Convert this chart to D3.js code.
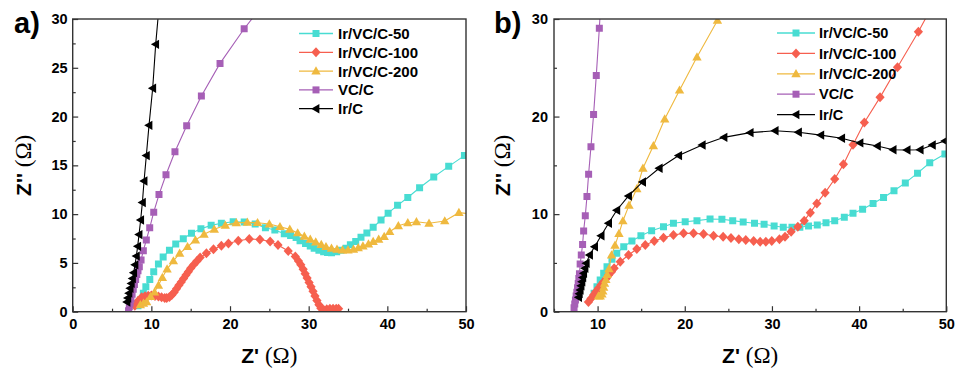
<!DOCTYPE html>
<html><head><meta charset="utf-8">
<script src="https://cdn.jsdelivr.net/npm/d3@7"></script>
<style>
body{margin:0;background:#fff}
svg{display:block}
text{font-family:"Liberation Sans",Arial,sans-serif;font-weight:bold;fill:#000}
</style>
</head><body>
<svg id="chart" width="957" height="373"></svg>
<script>
// ---------- series meta ----------
const seriesNames  = ["Ir/VC/C-50","Ir/VC/C-100","Ir/VC/C-200","VC/C","Ir/C"];
const seriesColors = ["#48DCD2","#F65F4F","#EFB93F","#A65FB6","#000000"];
const seriesShapes = ["square","diamond","triangleUp","square","triangleLeft"];

// ---------- panel a data [Z', Z''] ----------
const a_IrVCC50 = [[8.3,0.6],[8.64,1.2],[8.98,1.9],[9.3,2.56],[9.8,3.3],[10.3,4.1],[10.9,4.9],[11.5,5.6],[12.3,6.3],[13.1,6.94],[14.06,7.48],[15.1,8.03],[16.3,8.5],[17.6,8.85],[18.9,9.06],[20.4,9.22],[21.8,9.2],[23.2,9.0],[24.5,8.6],[25.7,8.37],[26.9,8.0],[27.7,7.8],[28.4,7.6],[28.9,7.28],[29.6,7.0],[30.2,6.73],[30.7,6.5],[31.3,6.29],[31.9,6.15],[32.4,6.08],[32.9,6.05],[33.56,6.15],[34.1,6.29],[34.75,6.5],[35.3,6.87],[35.98,7.2],[36.65,7.63],[37.4,8.07],[38.2,8.65],[39.2,9.4],[40.1,10.1],[41.3,10.9],[42.6,11.7],[44.1,12.7],[45.9,13.8],[47.8,14.9],[49.8,16.0]];
const a_IrVCC100 = [[7.9,0.6],[8.3,1.1],[8.77,1.47],[9.2,1.58],[9.6,1.63],[10.0,1.65],[10.46,1.62],[10.9,1.55],[11.3,1.47],[11.7,1.4],[11.95,1.4],[12.3,1.5],[12.6,1.7],[12.9,2.0],[13.2,2.35],[13.5,2.7],[13.8,3.05],[14.1,3.4],[14.4,3.75],[14.7,4.1],[15.0,4.45],[15.4,4.85],[15.8,5.2],[16.2,5.55],[17.0,5.98],[17.9,6.4],[18.9,6.77],[19.8,7.0],[21.05,7.28],[22.45,7.45],[23.8,7.4],[25.1,7.2],[26.1,6.84],[27.4,6.22],[28.3,5.65],[28.7,5.2],[29.0,4.8],[29.3,4.35],[29.55,3.9],[29.8,3.45],[30.05,3.0],[30.3,2.55],[30.55,2.1],[30.8,1.6],[31.05,1.15],[31.3,0.7],[31.55,0.35],[31.9,0.2],[32.3,0.25],[32.7,0.3],[33.1,0.3],[33.5,0.3],[33.8,0.3]];
const a_IrVCC200 = [[8.6,0.7],[9.0,0.85],[9.4,1.0],[9.9,1.54],[10.4,2.0],[10.9,2.7],[11.4,3.5],[12.0,4.37],[12.8,5.2],[13.6,5.98],[14.6,6.66],[15.6,7.35],[16.7,7.93],[18.0,8.44],[19.4,8.85],[20.8,9.1],[22.2,9.16],[23.5,9.12],[25.0,8.99],[26.35,8.71],[27.6,8.44],[28.6,8.07],[29.45,7.73],[30.2,7.42],[30.9,7.14],[31.6,6.87],[32.2,6.66],[32.9,6.5],[33.6,6.4],[34.3,6.32],[35.0,6.32],[35.7,6.4],[36.3,6.55],[36.9,6.73],[37.6,6.94],[38.2,7.18],[38.9,7.42],[39.6,7.69],[40.3,8.2],[41.4,8.8],[42.6,9.1],[43.7,9.22],[45.3,9.06],[47.3,9.3],[49.1,10.15],[51.0,10.0]];
const a_VCC = [[7.1,0.1],[7.2,0.5],[7.3,0.9],[7.4,1.3],[7.55,1.8],[7.7,2.3],[7.85,2.8],[8.0,3.3],[8.15,3.8],[8.3,4.2],[8.47,4.6],[8.69,5.3],[8.98,6.25],[9.36,7.35],[9.79,8.6],[10.3,10.2],[10.97,12.0],[11.86,14.04],[13.0,16.4],[14.49,19.06],[16.36,22.1],[18.73,25.45],[21.8,29.0],[25.3,32.6]];
const a_IrC = [[6.9,1.0],[7.0,1.4],[7.15,1.9],[7.3,2.4],[7.45,2.9],[7.6,3.4],[7.75,4.0],[7.92,4.8],[8.09,5.7],[8.26,6.7],[8.43,7.9],[8.64,9.4],[8.86,11.2],[9.07,13.4],[9.36,16.0],[9.70,19.1],[10.17,22.9],[10.55,27.4],[11.0,31.5]];

// ---------- panel b data [Z', Z''] ----------
const b_IrVCC50 = [[9.6,1.9],[9.93,2.56],[10.3,3.25],[10.7,3.93],[11.08,4.61],[11.65,5.37],[12.2,5.98],[13.0,6.66],[13.94,7.25],[14.97,7.79],[16.2,8.3],[17.56,8.71],[18.7,9.06],[20.05,9.22],[21.4,9.33],[22.9,9.5],[24.26,9.47],[25.5,9.33],[26.7,9.19],[28.0,9.06],[29.1,8.96],[30.25,8.78],[31.3,8.65],[32.3,8.65],[33.2,8.65],[34.2,8.78],[35.2,8.89],[36.2,9.12],[37.2,9.33],[38.3,9.67],[39.3,10.08],[40.4,10.5],[41.6,11.1],[42.8,11.7],[44.0,12.4],[45.3,13.2],[46.7,14.2],[48.1,15.27],[49.84,16.16]];
const b_IrVCC100 = [[8.95,1.0],[9.25,1.35],[9.54,1.71],[9.8,2.05],[10.1,2.4],[10.4,2.75],[10.7,3.07],[11.0,3.4],[11.26,3.76],[11.6,4.1],[11.9,4.45],[12.6,5.12],[13.55,5.81],[14.5,6.43],[15.47,6.84],[16.5,7.25],[17.56,7.58],[18.7,7.86],[19.86,8.03],[21.0,8.03],[22.15,7.96],[23.3,7.79],[24.4,7.69],[25.3,7.55],[26.2,7.42],[27.0,7.35],[27.9,7.25],[28.65,7.17],[29.3,7.17],[29.98,7.25],[30.86,7.42],[31.5,7.69],[32.2,8.2],[32.97,8.7],[33.7,9.33],[34.4,10.15],[35.15,11.1],[36.1,12.2],[37.2,13.6],[38.2,15.1],[39.3,17.1],[40.6,19.4],[42.4,21.97],[44.4,25.05],[46.8,28.7],[48.5,31.5]];
const b_IrVCC200 = [[10.1,1.6],[10.3,1.6],[10.5,1.8],[10.6,2.1],[10.7,2.5],[10.8,2.9],[10.95,3.3],[11.1,3.8],[11.3,4.4],[11.6,5.8],[12.0,6.8],[12.45,8.0],[12.9,9.3],[13.6,10.9],[14.5,12.6],[15.2,14.7],[16.4,17.0],[17.7,19.75],[19.4,22.7],[21.4,26.1],[23.75,29.85]];
const b_VCC = [[7.3,0.4],[7.38,0.8],[7.46,1.2],[7.54,1.6],[7.62,2.0],[7.7,2.45],[7.78,2.9],[7.85,3.4],[7.92,3.9],[8.0,4.89],[8.13,5.8],[8.28,6.9],[8.4,8.27],[8.59,9.84],[8.78,11.8],[8.97,14.1],[9.24,16.9],[9.54,20.2],[9.85,24.2],[10.2,29.05],[10.45,33.0]];
const b_IrC = [[7.82,1.47],[7.9,1.85],[8.0,2.22],[8.1,2.65],[8.2,3.07],[8.3,3.5],[8.4,3.93],[8.55,4.45],[8.7,4.96],[9.08,5.81],[9.66,6.66],[10.4,7.79],[11.26,9.06],[12.2,10.4],[13.55,11.86],[15.16,13.3],[17.07,14.7],[19.3,16.0],[22.0,17.08],[24.5,17.87],[27.5,18.35],[30.37,18.55],[33.04,18.39],[35.6,18.1],[38.0,17.77],[40.1,17.3],[42.1,16.98],[43.9,16.6],[45.5,16.57],[47.0,16.6],[48.4,17.08],[49.84,17.5],[51.0,18.0]];

// ---------- ticks ----------
const a_xTicks = [0,10,20,30,40,50];
const a_xMinor = [5,15,25,35,45];
const a_yTicks = [0,5,10,15,20,25,30];
const a_yMinor = [2.5,7.5,12.5,17.5,22.5,27.5];
const b_xTicks = [10,20,30,40,50];
const b_xMinor = [5,15,25,35,45];
const b_yTicks = [0,10,20,30];
const b_yMinor = [5,15,25];

const panels = [
  {id:"a", label:"a)", left:72.7, right:466, top:19, bottom:311.7, xDom:[0,50], yDom:[0,30],
   xTicks:a_xTicks, xMinor:a_xMinor, yTicks:a_yTicks, yMinor:a_yMinor,
   data:[a_IrVCC50,a_IrVCC100,a_IrVCC200,a_VCC,a_IrC],
   labelX:14, yTitleX:31, yPad:5, legX0:299, legX1:333, legY:33.5, legDy:18.8, legFont:15, legTextX:338},
  {id:"b", label:"b)", left:554, right:946.3, top:19, bottom:311.7, xDom:[5,50], yDom:[0,30],
   xTicks:b_xTicks, xMinor:b_xMinor, yTicks:b_yTicks, yMinor:b_yMinor,
   data:[b_IrVCC50,b_IrVCC100,b_IrVCC200,b_VCC,b_IrC],
   labelX:494, yTitleX:510, yPad:6, legX0:777, legX1:815, legY:33, legDy:20.4, legFont:14.5, legTextX:819}
];

function markerPath(shape){
  switch(shape){
    case "square": return "M-3.5,-3.5H3.5V3.5H-3.5Z";
    case "diamond": return "M0,-5L4.6,0L0,5L-4.6,0Z";
    case "triangleUp": return "M0,-4.8L4.7,3.4H-4.7Z";
    case "triangleLeft": return "M-4.8,0L3.4,-4.7V4.7Z";
  }
}

const svg = d3.select("#chart");
svg.append("rect").attr("width",957).attr("height",373).attr("fill","#fff");

panels.forEach(p=>{
  const x = d3.scaleLinear().domain(p.xDom).range([p.left,p.right]);
  const y = d3.scaleLinear().domain(p.yDom).range([p.bottom,p.top]);
  const g = svg.append("g");

  const clipId = "clip-"+p.id;
  svg.append("clipPath").attr("id",clipId).append("rect")
    .attr("x",p.left).attr("y",p.top).attr("width",p.right-p.left).attr("height",p.bottom-p.top);

  const xAx = d3.axisBottom(x).tickValues(p.xTicks).tickSize(-5.5).tickPadding(7).tickFormat(d3.format("d"));
  const xAxMin = d3.axisBottom(x).tickValues(p.xMinor).tickSize(-3).tickFormat("");
  const yAx = d3.axisLeft(y).tickValues(p.yTicks).tickSize(-5.5).tickPadding(p.yPad).tickFormat(d3.format("d"));
  const yAxMin = d3.axisLeft(y).tickValues(p.yMinor).tickSize(-3).tickFormat("");

  [[xAx,"x"],[xAxMin,"x"],[yAx,"y"],[yAxMin,"y"]].forEach(([ax,t])=>{
    const ag = g.append("g").attr("transform", t==="x" ? `translate(0,${p.bottom})` : `translate(${p.left},0)`).call(ax);
    ag.select(".domain").remove();
    ag.selectAll("line").attr("stroke","#333").attr("stroke-width",1.2);
    ag.selectAll("text").attr("font-size",14.5).attr("font-weight","bold")
      .attr("font-family",'"Liberation Sans",Arial,sans-serif').attr("fill","#000");
  });

  const plot = g.append("g").attr("clip-path",`url(#${clipId})`);
  const line = d3.line().x(d=>x(d[0])).y(d=>y(d[1]));
  p.data.forEach((ser,i)=>{
    plot.append("path").datum(ser).attr("d",line)
      .attr("fill","none").attr("stroke",seriesColors[i]).attr("stroke-width",1.1);
    plot.append("g").selectAll("path").data(ser).join("path")
      .attr("d",markerPath(seriesShapes[i]))
      .attr("transform",d=>`translate(${x(d[0])},${y(d[1])})`)
      .attr("fill",seriesColors[i]);
  });

  g.append("rect").attr("x",p.left).attr("y",p.top)
    .attr("width",p.right-p.left).attr("height",p.bottom-p.top)
    .attr("fill","none").attr("stroke","#333").attr("stroke-width",1.4);

  const lg = g.append("g");
  seriesNames.forEach((nm,i)=>{
    const yy = p.legY + i*p.legDy;
    lg.append("line").attr("x1",p.legX0).attr("x2",p.legX1).attr("y1",yy).attr("y2",yy)
      .attr("stroke",seriesColors[i]).attr("stroke-width",1.3);
    lg.append("path").attr("d",markerPath(seriesShapes[i]))
      .attr("transform",`translate(${(p.legX0+p.legX1)/2},${yy})`).attr("fill",seriesColors[i]);
    lg.append("text").attr("x",p.legTextX).attr("y",yy).attr("dy","0.36em")
      .attr("font-size",p.legFont).text(nm);
  });

  g.append("text").attr("x",p.labelX).attr("y",33).attr("font-size",29).text(p.label);

  const cx = (p.left+p.right)/2;
  const xt = g.append("text").attr("x",cx).attr("y",363).attr("text-anchor","middle").attr("font-size",21);
  xt.append("tspan").text("Z' ");
  xt.append("tspan").attr("font-family",'"Liberation Serif","Times New Roman",serif').attr("font-weight","normal").attr("font-size",23).text("(Ω)");

  const cy = (p.top+p.bottom)/2;
  const yt = g.append("text").attr("transform",`translate(${p.yTitleX},${cy}) rotate(-90)`)
    .attr("text-anchor","middle").attr("font-size",21);
  yt.append("tspan").text("Z'' ");
  yt.append("tspan").attr("font-family",'"Liberation Serif","Times New Roman",serif').attr("font-weight","normal").attr("font-size",23).text("(Ω)");
});
</script>
</body></html>
